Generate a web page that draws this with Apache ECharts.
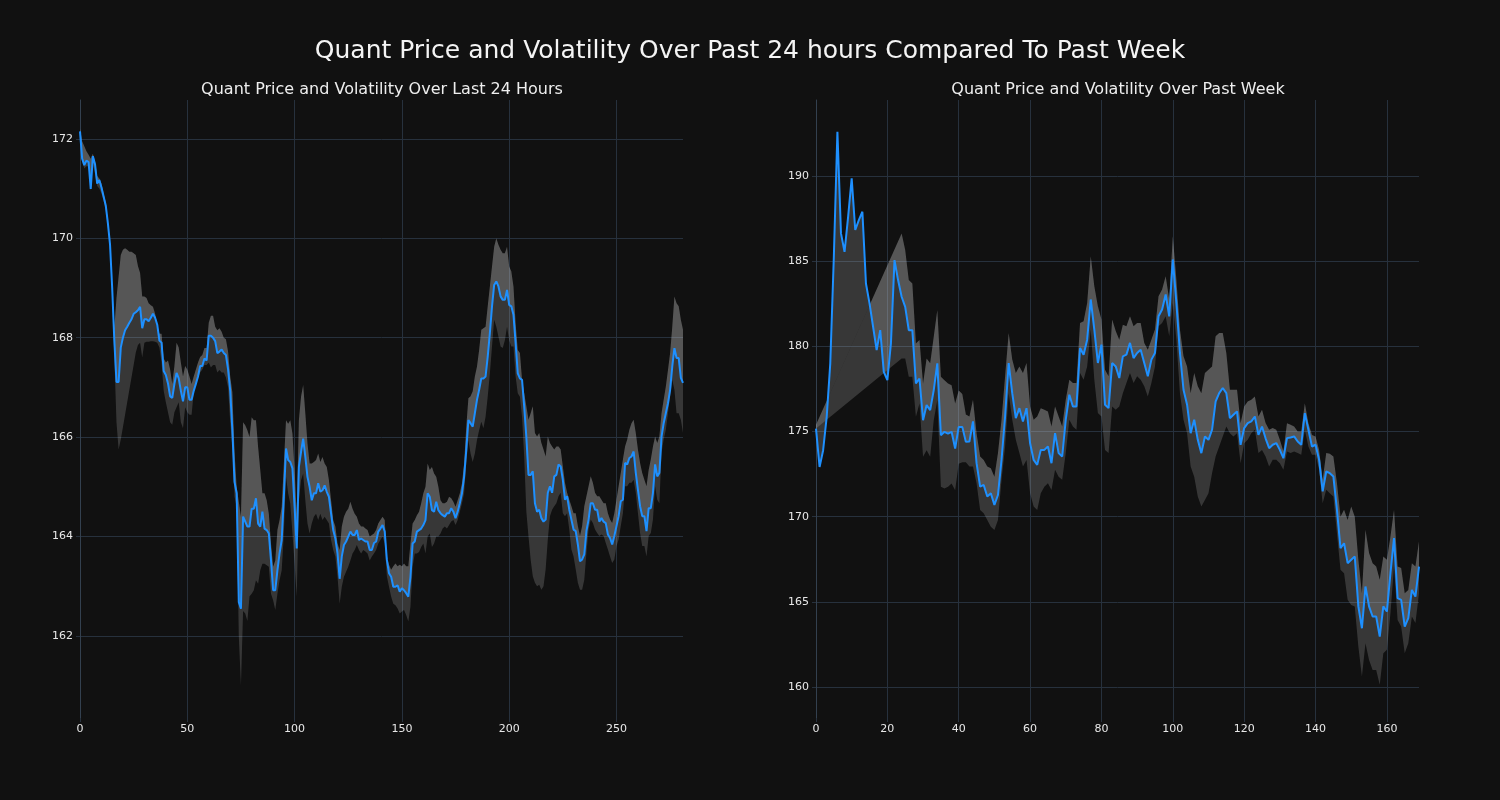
<!DOCTYPE html>
<html><head><meta charset="utf-8">
<script src="https://cdn.jsdelivr.net/npm/echarts@6/dist/echarts.min.js"></script>
<style>html,body{margin:0;padding:0;background:#111111;}#c{width:1500px;height:800px;}</style>
</head><body><div id="c"></div>
<script>
// ---- data ----
const leftPrice = [
172.15,171.6,171.47,171.56,171.53,170.99,171.65,171.49,171.1,171.17,
171.02,170.84,170.66,170.3,169.87,169.0,167.94,167.11,167.11,167.8,
168.0,168.15,168.22,168.3,168.37,168.48,168.51,168.55,168.62,168.19,
168.37,168.37,168.33,168.4,168.48,168.4,168.26,167.94,167.9,167.33,
167.25,167.08,166.82,166.79,167.07,167.29,167.18,166.93,166.72,167.0,
167.0,166.75,166.75,166.93,167.07,167.22,167.43,167.43,167.58,167.54,
168.04,168.04,168.0,167.93,167.69,167.72,167.76,167.69,167.65,167.36,
166.93,166.14,165.1,164.87,162.68,162.55,164.4,164.3,164.2,164.2,
164.56,164.56,164.77,164.26,164.2,164.5,164.16,164.13,164.06,163.52,
162.92,162.92,163.32,163.66,163.93,164.8,165.77,165.54,165.5,165.37,
164.6,163.76,165.4,165.7,165.97,165.6,165.2,165.0,164.73,164.87,
164.87,165.07,164.9,164.93,165.03,164.9,164.8,164.46,164.13,163.96,
163.66,163.15,163.6,163.83,163.9,164.0,164.1,164.03,164.03,164.13,
163.93,163.96,163.93,163.9,163.9,163.73,163.73,163.87,163.9,164.1,
164.16,164.23,164.1,163.53,163.26,163.19,162.99,162.99,163.02,162.89,
162.96,162.92,162.86,162.79,163.19,163.86,163.9,164.1,164.13,164.16,
164.23,164.33,164.87,164.8,164.53,164.5,164.7,164.53,164.47,164.43,
164.4,164.47,164.47,164.57,164.5,164.37,164.5,164.67,164.87,165.2,
165.74,166.34,166.28,166.21,166.48,166.75,166.95,167.18,167.18,167.22,
167.62,168.09,168.63,169.06,169.13,169.03,168.83,168.76,168.76,168.96,
168.66,168.63,168.46,167.89,167.28,167.18,167.15,166.61,166.0,165.24,
165.24,165.31,164.67,164.5,164.54,164.37,164.3,164.34,164.88,165.01,
164.88,165.21,165.24,165.45,165.41,165.14,164.74,164.81,164.54,164.34,
164.14,164.11,163.84,163.5,163.54,163.64,164.11,164.34,164.67,164.67,
164.54,164.54,164.3,164.37,164.3,164.27,164.04,163.97,163.84,164.01,
164.21,164.41,164.71,164.74,165.48,165.45,165.58,165.61,165.71,165.28,
164.94,164.61,164.41,164.41,164.11,164.57,164.57,164.88,165.45,165.21,
165.28,166.01,166.28,166.48,166.68,166.95,167.42,167.79,167.59,167.59,
167.19,167.09];

const leftUpper = [
172.2,171.95,171.85,171.75,171.68,171.6,171.7,171.55,171.25,171.2,
171.1,170.9,170.72,170.35,169.9,169.1,168.2,168.8,169.23,169.66,
169.77,169.8,169.77,169.73,169.73,169.7,169.66,169.44,169.3,168.83,
168.83,168.8,168.69,168.65,168.62,168.48,168.26,168.08,168.08,167.58,
167.5,167.54,167.36,167.07,167.43,167.9,167.8,167.5,167.22,167.43,
167.36,167.22,167.07,167.22,167.36,167.5,167.61,167.65,167.79,167.79,
168.3,168.44,168.44,168.22,168.15,168.19,168.12,168.0,167.97,167.72,
167.22,166.9,165.7,165.0,164.7,164.4,166.3,166.24,166.14,166.0,
166.4,166.34,166.34,165.8,165.34,164.87,164.87,164.73,164.46,163.86,
163.39,163.52,164.13,164.33,164.6,165.47,166.34,166.27,166.34,166.07,
165.34,164.46,166.34,166.81,167.05,166.48,165.87,165.47,165.47,165.5,
165.54,165.67,165.5,165.6,165.47,165.4,165.13,164.73,164.33,164.2,
163.86,163.73,164.2,164.4,164.5,164.56,164.7,164.56,164.46,164.4,
164.26,164.2,164.2,164.16,164.13,164.0,164.03,164.06,164.13,164.26,
164.33,164.4,164.33,163.6,163.43,163.33,163.4,163.46,163.4,163.43,
163.4,163.46,163.4,163.4,163.86,164.26,164.33,164.43,164.5,164.67,
164.87,165.0,165.47,165.34,165.4,165.27,165.2,165.0,164.73,164.67,
164.67,164.7,164.8,164.77,164.7,164.6,164.73,164.87,165.07,165.47,
166.21,166.78,166.82,166.92,167.22,167.42,167.75,168.16,168.19,168.22,
168.63,169.03,169.43,169.83,170.0,169.87,169.77,169.7,169.7,169.83,
169.43,169.33,169.03,168.29,167.75,167.69,167.15,166.88,166.62,166.35,
166.48,166.62,166.08,166.01,166.08,165.88,165.75,165.61,166.01,165.88,
165.81,165.75,165.81,165.81,165.75,165.41,165.08,164.88,164.74,164.61,
164.47,164.47,164.21,164.01,164.21,164.61,164.81,165.01,165.21,165.08,
164.88,164.81,164.81,164.74,164.67,164.67,164.47,164.34,164.27,164.47,
164.74,165.01,165.28,165.55,165.81,165.95,166.15,166.28,166.35,166.08,
165.75,165.48,165.28,165.14,165.01,165.34,165.55,165.81,166.01,165.88,
166.01,166.48,166.75,167.02,167.35,167.69,168.22,168.83,168.69,168.63,
168.36,168.16];

const leftLower = [
172.1,171.55,171.4,171.45,171.45,170.95,171.5,171.3,171.05,171.0,
170.9,170.75,170.55,170.2,169.75,168.8,167.6,166.3,165.75,165.95,
166.2,166.45,166.7,166.95,167.2,167.45,167.7,167.85,167.9,167.6,
167.9,167.92,167.92,167.93,167.93,167.92,167.9,167.8,167.5,166.93,
166.7,166.5,166.3,166.25,166.5,166.6,166.7,166.3,166.18,166.6,
166.5,166.45,166.45,166.9,167.1,167.2,167.3,167.36,167.45,167.45,
167.5,167.4,167.45,167.45,167.3,167.35,167.3,167.3,167.2,167.0,
166.3,165.8,164.8,164.6,162.0,161.0,162.5,162.45,162.3,162.8,
162.85,162.92,163.12,163.05,163.32,163.45,163.45,163.42,163.39,162.85,
162.72,162.52,162.85,163.12,163.32,164.06,165.2,164.87,164.66,164.06,
163.45,162.79,164.73,165.13,165.27,164.73,164.26,164.06,164.26,164.4,
164.46,164.33,164.46,164.33,164.4,164.33,164.26,163.93,163.73,163.6,
163.19,162.65,162.99,163.19,163.29,163.39,163.52,163.66,163.73,163.83,
163.73,163.66,163.73,163.7,163.66,163.52,163.6,163.66,163.73,163.86,
163.93,164.0,163.86,163.2,162.99,162.79,162.65,162.62,162.55,162.45,
162.49,162.52,162.42,162.29,162.59,163.39,163.66,163.66,163.69,163.79,
163.86,163.66,164.0,164.06,163.79,163.86,164.0,164.0,164.06,164.16,
164.2,164.16,164.23,164.3,164.33,164.23,164.33,164.5,164.67,164.87,
165.47,165.94,165.67,165.5,165.67,165.94,166.14,166.31,166.18,166.41,
166.81,167.28,167.82,168.36,168.22,168.02,167.82,167.79,167.95,168.22,
167.95,167.82,167.82,167.22,166.88,166.81,166.4,165.6,164.5,164.0,
163.54,163.2,163.07,163.0,163.03,162.93,163.0,163.34,163.94,164.41,
164.54,164.61,164.67,164.81,164.88,164.47,164.41,164.47,164.14,163.74,
163.6,163.34,163.07,162.93,162.93,163.13,163.67,164.14,164.34,164.27,
164.14,164.07,164.01,164.04,164.01,163.87,163.74,163.6,163.47,163.54,
163.81,163.94,164.21,164.47,165.01,165.01,165.08,165.08,165.14,164.88,
164.47,164.07,163.81,163.81,163.6,164.01,164.07,164.34,165.01,164.74,
164.67,165.68,165.95,166.15,166.48,166.82,167.15,166.95,166.48,166.48,
166.35,166.08];

const rightPrice = [
175.17,172.92,173.9,175.86,179.0,185.26,192.6,186.63,185.55,187.6,
189.86,186.83,187.41,187.9,183.69,182.52,181.15,179.78,180.95,178.5,
178.01,180.17,185.06,183.89,182.91,182.32,180.95,180.95,177.82,178.11,
175.66,176.55,176.25,177.43,179.0,174.78,174.98,174.88,174.98,174.0,
175.27,175.27,174.39,174.41,175.59,173.14,171.76,171.86,171.18,171.37,
170.69,171.27,173.33,175.88,179.02,177.25,175.78,176.37,175.59,176.37,
174.31,173.33,173.04,173.92,173.92,174.12,173.14,174.9,173.73,173.53,
175.69,177.16,176.47,176.47,179.9,179.51,180.39,182.75,180.98,179.02,
180.1,176.57,176.37,179.02,178.82,178.14,179.41,179.51,180.2,179.31,
179.61,179.8,179.02,178.24,179.22,179.61,181.76,182.16,183.04,181.76,
185.1,182.55,179.61,177.45,176.57,174.9,175.69,174.51,173.73,174.71,
174.51,175.1,176.76,177.25,177.55,177.25,175.78,175.98,176.18,174.22,
175.2,175.49,175.59,175.88,174.8,175.29,174.6,174.02,174.22,174.32,
173.92,173.43,174.61,174.65,174.71,174.41,174.22,176.08,175.1,174.12,
174.22,173.34,171.48,172.65,172.55,172.36,170.4,168.15,168.44,167.27,
167.47,167.66,164.73,163.45,165.9,164.73,164.14,164.14,162.96,164.73,
164.43,166.68,168.74,165.22,165.12,163.55,164.04,165.7,165.31,167.07];

const rightUpper = [
175.4,null,null,null,null,null,null,null,null,null,
null,null,null,null,null,null,null,null,null,null,
null,null,null,null,186.63,185.65,183.89,183.69,180.17,180.37,
177.82,179.29,179.0,180.56,182.13,178.21,178.01,177.82,177.72,176.64,
177.4,177.2,176.0,175.88,176.86,174.9,173.53,173.33,172.94,172.84,
172.35,173.73,175.69,178.24,180.78,179.22,178.43,178.82,178.43,179.02,
176.47,175.69,175.88,176.37,176.27,176.18,175.29,176.47,175.88,175.29,
176.86,178.04,177.84,177.84,181.37,181.47,182.55,185.29,183.53,182.35,
181.57,178.63,178.24,181.57,180.9,180.39,181.27,181.18,181.76,181.18,
181.37,181.37,180.2,179.8,180.39,180.98,182.94,183.33,184.12,182.75,
186.47,183.92,180.98,179.41,178.82,177.25,178.43,177.65,177.25,178.43,
178.63,178.82,180.59,180.78,180.78,179.61,177.45,177.45,177.45,175.49,
176.47,176.76,176.86,177.06,175.88,176.27,175.5,175.1,175.2,175.1,
174.51,173.83,175.49,175.39,175.29,175.0,175.0,176.66,175.49,174.8,
174.71,173.92,172.16,173.73,173.69,173.53,171.97,170.0,170.4,169.81,
170.6,170.0,167.47,165.51,169.23,167.86,167.27,167.07,166.29,167.66,
167.47,168.84,170.4,167.07,166.98,165.51,165.7,167.27,167.07,168.54];

const rightLower = [
175.17,null,null,null,null,null,null,null,null,null,
null,null,null,null,null,null,null,null,null,null,
null,null,null,null,179.29,179.29,178.21,178.21,175.86,176.64,
173.51,173.9,173.51,175.66,176.84,171.75,171.65,171.75,171.94,171.55,
173.1,173.2,173.2,172.94,172.94,171.96,170.39,170.2,169.8,169.41,
169.22,169.8,172.16,174.12,177.25,175.69,174.51,173.73,172.94,173.33,
171.37,170.59,170.39,171.37,171.76,171.96,171.57,172.75,172.35,172.16,
173.73,175.69,175.29,175.1,178.43,178.04,178.82,180.98,178.04,176.08,
175.88,173.92,173.73,176.47,176.27,176.47,177.25,177.84,178.43,177.84,
178.24,178.04,177.65,177.06,177.84,178.82,181.18,181.37,181.76,180.59,
182.55,180.39,177.25,175.69,174.9,172.94,172.35,171.18,170.59,170.98,
171.37,172.55,173.53,174.12,174.71,175.29,174.9,174.71,174.9,173.14,
174.31,174.51,174.9,175.1,173.73,173.92,173.53,172.94,173.34,173.34,
173.14,172.75,173.83,173.73,173.83,173.73,173.63,175.1,174.12,173.63,
173.63,172.75,170.79,171.58,171.38,171.18,169.03,166.88,166.68,165.12,
164.82,164.73,162.38,160.62,162.57,161.59,161.0,161.0,160.13,161.98,
162.18,164.33,167.07,163.94,163.55,161.98,162.57,164.14,163.75,165.51];

const leftXTicks = [0, 50, 100, 150, 200, 250];
const leftYTicks = [162, 164, 166, 168, 170, 172];
const rightXTicks = [0, 20, 40, 60, 80, 100, 120, 140, 160];
const rightYTicks = [160, 165, 170, 175, 180, 185, 190];

const mainTitle = 'Quant Price and Volatility Over Past 24 hours Compared To Past Week';
const leftTitle = 'Quant Price and Volatility Over Last 24 Hours';
const rightTitle = 'Quant Price and Volatility Over Past Week';

// ---- helpers ----
const FONT = 'DejaVu Sans';
const GRID_C = '#27313d';
const AXIS_C = '#33404f';
const TEXT_C = '#e8e8e8';
const FILL_C = 'rgba(211,211,211,0.2)';

function pairs(arr) {
  const out = [];
  arr.forEach((v, i) => { if (v !== null && v !== undefined) out.push([i, v]); });
  return out;
}

function polySeries(idx, topPts, botPts, z) {
  return {
    type: 'custom', xAxisIndex: idx, yAxisIndex: idx, silent: true, z: z,
    clip: true, animation: false,
    data: [topPts[0]],
    renderItem: function (params, api) {
      const pts = topPts.map(p => api.coord(p))
        .concat(botPts.slice().reverse().map(p => api.coord(p)));
      return { type: 'polygon', shape: { points: pts }, style: { fill: FILL_C } };
    }
  };
}

function xAxisCfg(idx, max, ticks) {
  return {
    type: 'value', gridIndex: idx, min: 0, max: max,
    axisLine: { show: false },
    axisTick: { show: true, length: 4, lineStyle: { color: GRID_C }, customValues: ticks },
    axisLabel: { color: TEXT_C, fontSize: 11, fontFamily: FONT, margin: 6, customValues: ticks },
    splitLine: { show: true, lineStyle: { color: GRID_C, width: 1 } }
  };
}
function yAxisCfg(idx, min, max, ticks) {
  return {
    type: 'value', gridIndex: idx, min: min, max: max, scale: true,
    axisLine: { show: true, onZero: false, lineStyle: { color: AXIS_C, width: 1 } },
    axisTick: { show: true, length: 4, lineStyle: { color: GRID_C }, customValues: ticks },
    axisLabel: { color: TEXT_C, fontSize: 11, fontFamily: FONT, margin: 7, customValues: ticks },
    splitLine: { show: true, lineStyle: { color: GRID_C, width: 1 } }
  };
}

const lp = pairs(leftPrice), lu = pairs(leftUpper), ll = pairs(leftLower);
const rp = pairs(rightPrice), ru = pairs(rightUpper), rl = pairs(rightLower);

function lineSeries(idx, pts) {
  return {
    type: 'line', xAxisIndex: idx, yAxisIndex: idx, data: pts, z: 5,
    showSymbol: false, symbol: 'none', silent: true,
    lineStyle: { color: '#1e90ff', width: 2 }
  };
}

const option = {
  backgroundColor: '#111111',
  animation: false,
  title: [
    { text: mainTitle, left: 745, top: 34, textAlign: 'center',
      textStyle: { color: '#f4f4f4', fontSize: 25, fontWeight: 'normal', fontFamily: FONT } },
    { text: leftTitle, left: 377, top: 77, textAlign: 'center',
      textStyle: { color: '#eeeeee', fontSize: 16, fontWeight: 'normal', fontFamily: FONT } },
    { text: rightTitle, left: 1113, top: 77, textAlign: 'center',
      textStyle: { color: '#eeeeee', fontSize: 16, fontWeight: 'normal', fontFamily: FONT } }
  ],
  grid: [
    { left: 80, width: 603, top: 100, height: 618 },
    { left: 816, width: 603, top: 100, height: 618 }
  ],
  xAxis: [ xAxisCfg(0, 281, leftXTicks), xAxisCfg(1, 169, rightXTicks) ],
  yAxis: [ yAxisCfg(0, 160.35, 172.78, leftYTicks), yAxisCfg(1, 158.18, 194.46, rightYTicks) ],
  series: [
    polySeries(0, lu, ll, 1),
    polySeries(0, lp, lu, 2),
    lineSeries(0, lp),
    polySeries(1, ru, rl, 1),
    polySeries(1, rp, ru, 2),
    lineSeries(1, rp)
  ]
};

const chart = echarts.init(document.getElementById('c'), null, { renderer: 'canvas', width: 1500, height: 800 });
chart.setOption(option);
</script>
</body></html>
